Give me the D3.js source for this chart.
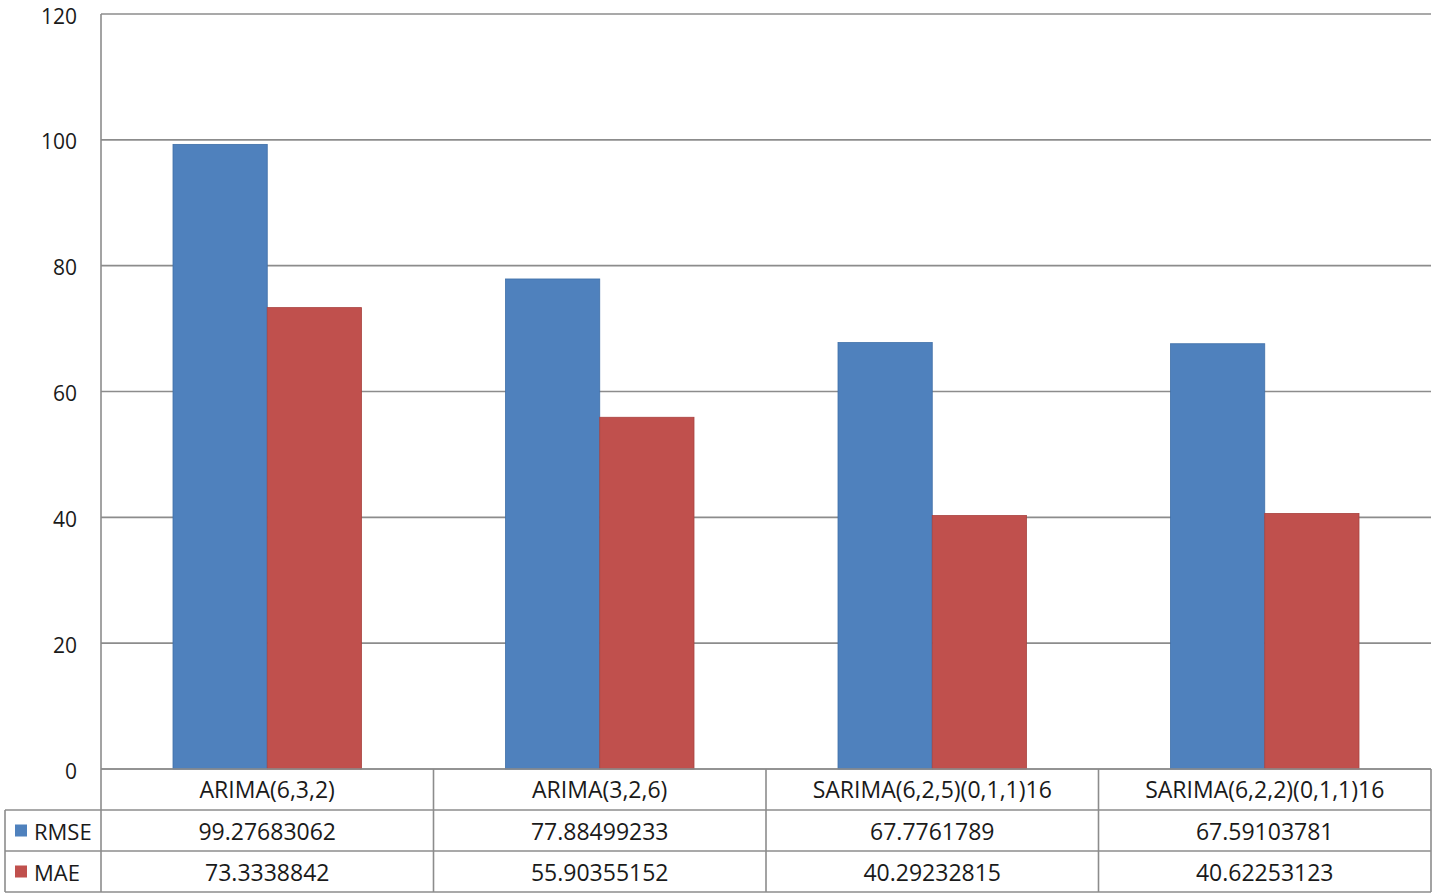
<!DOCTYPE html>
<html>
<head>
<meta charset="utf-8">
<script src="https://cdn.jsdelivr.net/npm/d3@7"></script>
<style>
  html, body { margin: 0; padding: 0; background: #fff; }
  svg { display: block; }
  text { font-family: "Open Sans", "Liberation Sans", Arial, sans-serif; fill: #1a1a1a; }
</style>
</head>
<body>
<svg id="chart" width="1441" height="894"></svg>
<script>
// Model names and error metrics
const categories = ["ARIMA(6,3,2)", "ARIMA(3,2,6)", "SARIMA(6,2,5)(0,1,1)16", "SARIMA(6,2,2)(0,1,1)16"];
const seriesNames = ["RMSE", "MAE"];
const rmse = [99.27683062, 77.88499233, 67.7761789, 67.59103781];
const mae = [73.3338842, 55.90355152, 40.29232815, 40.62253123];
const yTicks = [0, 20, 40, 60, 80, 100, 120];
const colors = ["#4F81BD", "#C0504D"];
const strokeColors = ["#3F6FA8", "#A9423F"];

const series = [rmse, mae];

const svg = d3.select("#chart");
const margin = { left: 101, top: 14 };
const plotRight = 1431;
const plotBottom = 769;
const rowH = 41;
const tableLeft = 5;
const sideGap = 72;

const x = d3.scaleBand().domain(categories).range([margin.left, plotRight]).padding(0);
// the bar pair sits centred in each category with a gap on both sides
const inner = d3.scaleBand().domain(seriesNames).range([sideGap, x.bandwidth() - sideGap]).padding(0);

const y = d3.scaleLinear().domain([0, 120]).range([plotBottom, margin.top]);

// gridlines
svg.append("g")
  .selectAll("line")
  .data(yTicks)
  .join("line")
  .attr("x1", margin.left).attr("x2", plotRight)
  .attr("y1", d => y(d)).attr("y2", d => y(d))
  .attr("stroke", "#8c8c8c").attr("stroke-width", 1.6);

// y axis line
svg.append("line")
  .attr("x1", margin.left).attr("x2", margin.left)
  .attr("y1", margin.top).attr("y2", plotBottom)
  .attr("stroke", "#8c8c8c").attr("stroke-width", 1.6);

// y tick labels
const yAxis = d3.axisLeft(y).tickValues(yTicks).tickSize(0).tickPadding(24);
const yg = svg.append("g").attr("transform", `translate(${margin.left},0)`).call(yAxis);
yg.select(".domain").remove();
yg.selectAll("text")
  .attr("font-family", "Open Sans, Liberation Sans, Arial, sans-serif")
  .attr("font-size", 21)
  .attr("dy", "0.43em")
  .attr("fill", "#1a1a1a");

// bars
const groups = svg.append("g").selectAll("g")
  .data(categories)
  .join("g")
  .attr("transform", d => `translate(${x(d)},0)`);

groups.selectAll("rect")
  .data((d, i) => seriesNames.map((s, j) => ({ s, j, v: series[j][i] })))
  .join("rect")
  .attr("x", d => inner(d.s))
  .attr("width", inner.bandwidth())
  .attr("y", d => y(d.v))
  .attr("height", d => plotBottom - y(d.v))
  .attr("fill", d => colors[d.j])
  .attr("stroke", d => strokeColors[d.j])
  .attr("stroke-width", 0.8);

// data table
const table = svg.append("g");
const lineStyle = sel => sel.attr("stroke", "#8c8c8c").attr("stroke-width", 1.6);

// horizontal lines
[
  [margin.left, plotBottom],
  [tableLeft, plotBottom + rowH],
  [tableLeft, plotBottom + 2 * rowH],
  [tableLeft, plotBottom + 3 * rowH]
].forEach(([x0, yy]) => {
  table.append("line").attr("x1", x0).attr("x2", plotRight).attr("y1", yy).attr("y2", yy).call(lineStyle);
});

// vertical lines
const vx = categories.map(c => x(c)).concat([plotRight]);
vx.forEach(xx => {
  table.append("line").attr("x1", xx).attr("x2", xx)
    .attr("y1", plotBottom).attr("y2", plotBottom + 3 * rowH).call(lineStyle);
});
table.append("line").attr("x1", tableLeft).attr("x2", tableLeft)
  .attr("y1", plotBottom + rowH).attr("y2", plotBottom + 3 * rowH).call(lineStyle);

// header row: category names
table.selectAll("text.cat")
  .data(categories)
  .join("text")
  .attr("class", "cat")
  .attr("x", d => x(d) + x.bandwidth() / 2)
  .attr("y", plotBottom + rowH / 2 + 8.5)
  .attr("text-anchor", "middle")
  .attr("font-size", 23)
  .text(d => d);

// value rows with legend keys
seriesNames.forEach((s, j) => {
  const rowY = plotBottom + (j + 1) * rowH;
  table.append("rect")
    .attr("x", 15).attr("y", rowY + rowH / 2 - 6)
    .attr("width", 12).attr("height", 12)
    .attr("fill", colors[j]);
  table.append("text")
    .attr("x", 34).attr("y", rowY + rowH / 2 + 9)
    .attr("font-size", 22)
    .text(s);
  table.selectAll(`text.v${j}`)
    .data(categories)
    .join("text")
    .attr("class", `v${j}`)
    .attr("x", d => x(d) + x.bandwidth() / 2)
    .attr("y", rowY + rowH / 2 + 9)
    .attr("text-anchor", "middle")
    .attr("font-size", 23)
    .text((d, i) => series[j][i]);
});
</script>
</body>
</html>
